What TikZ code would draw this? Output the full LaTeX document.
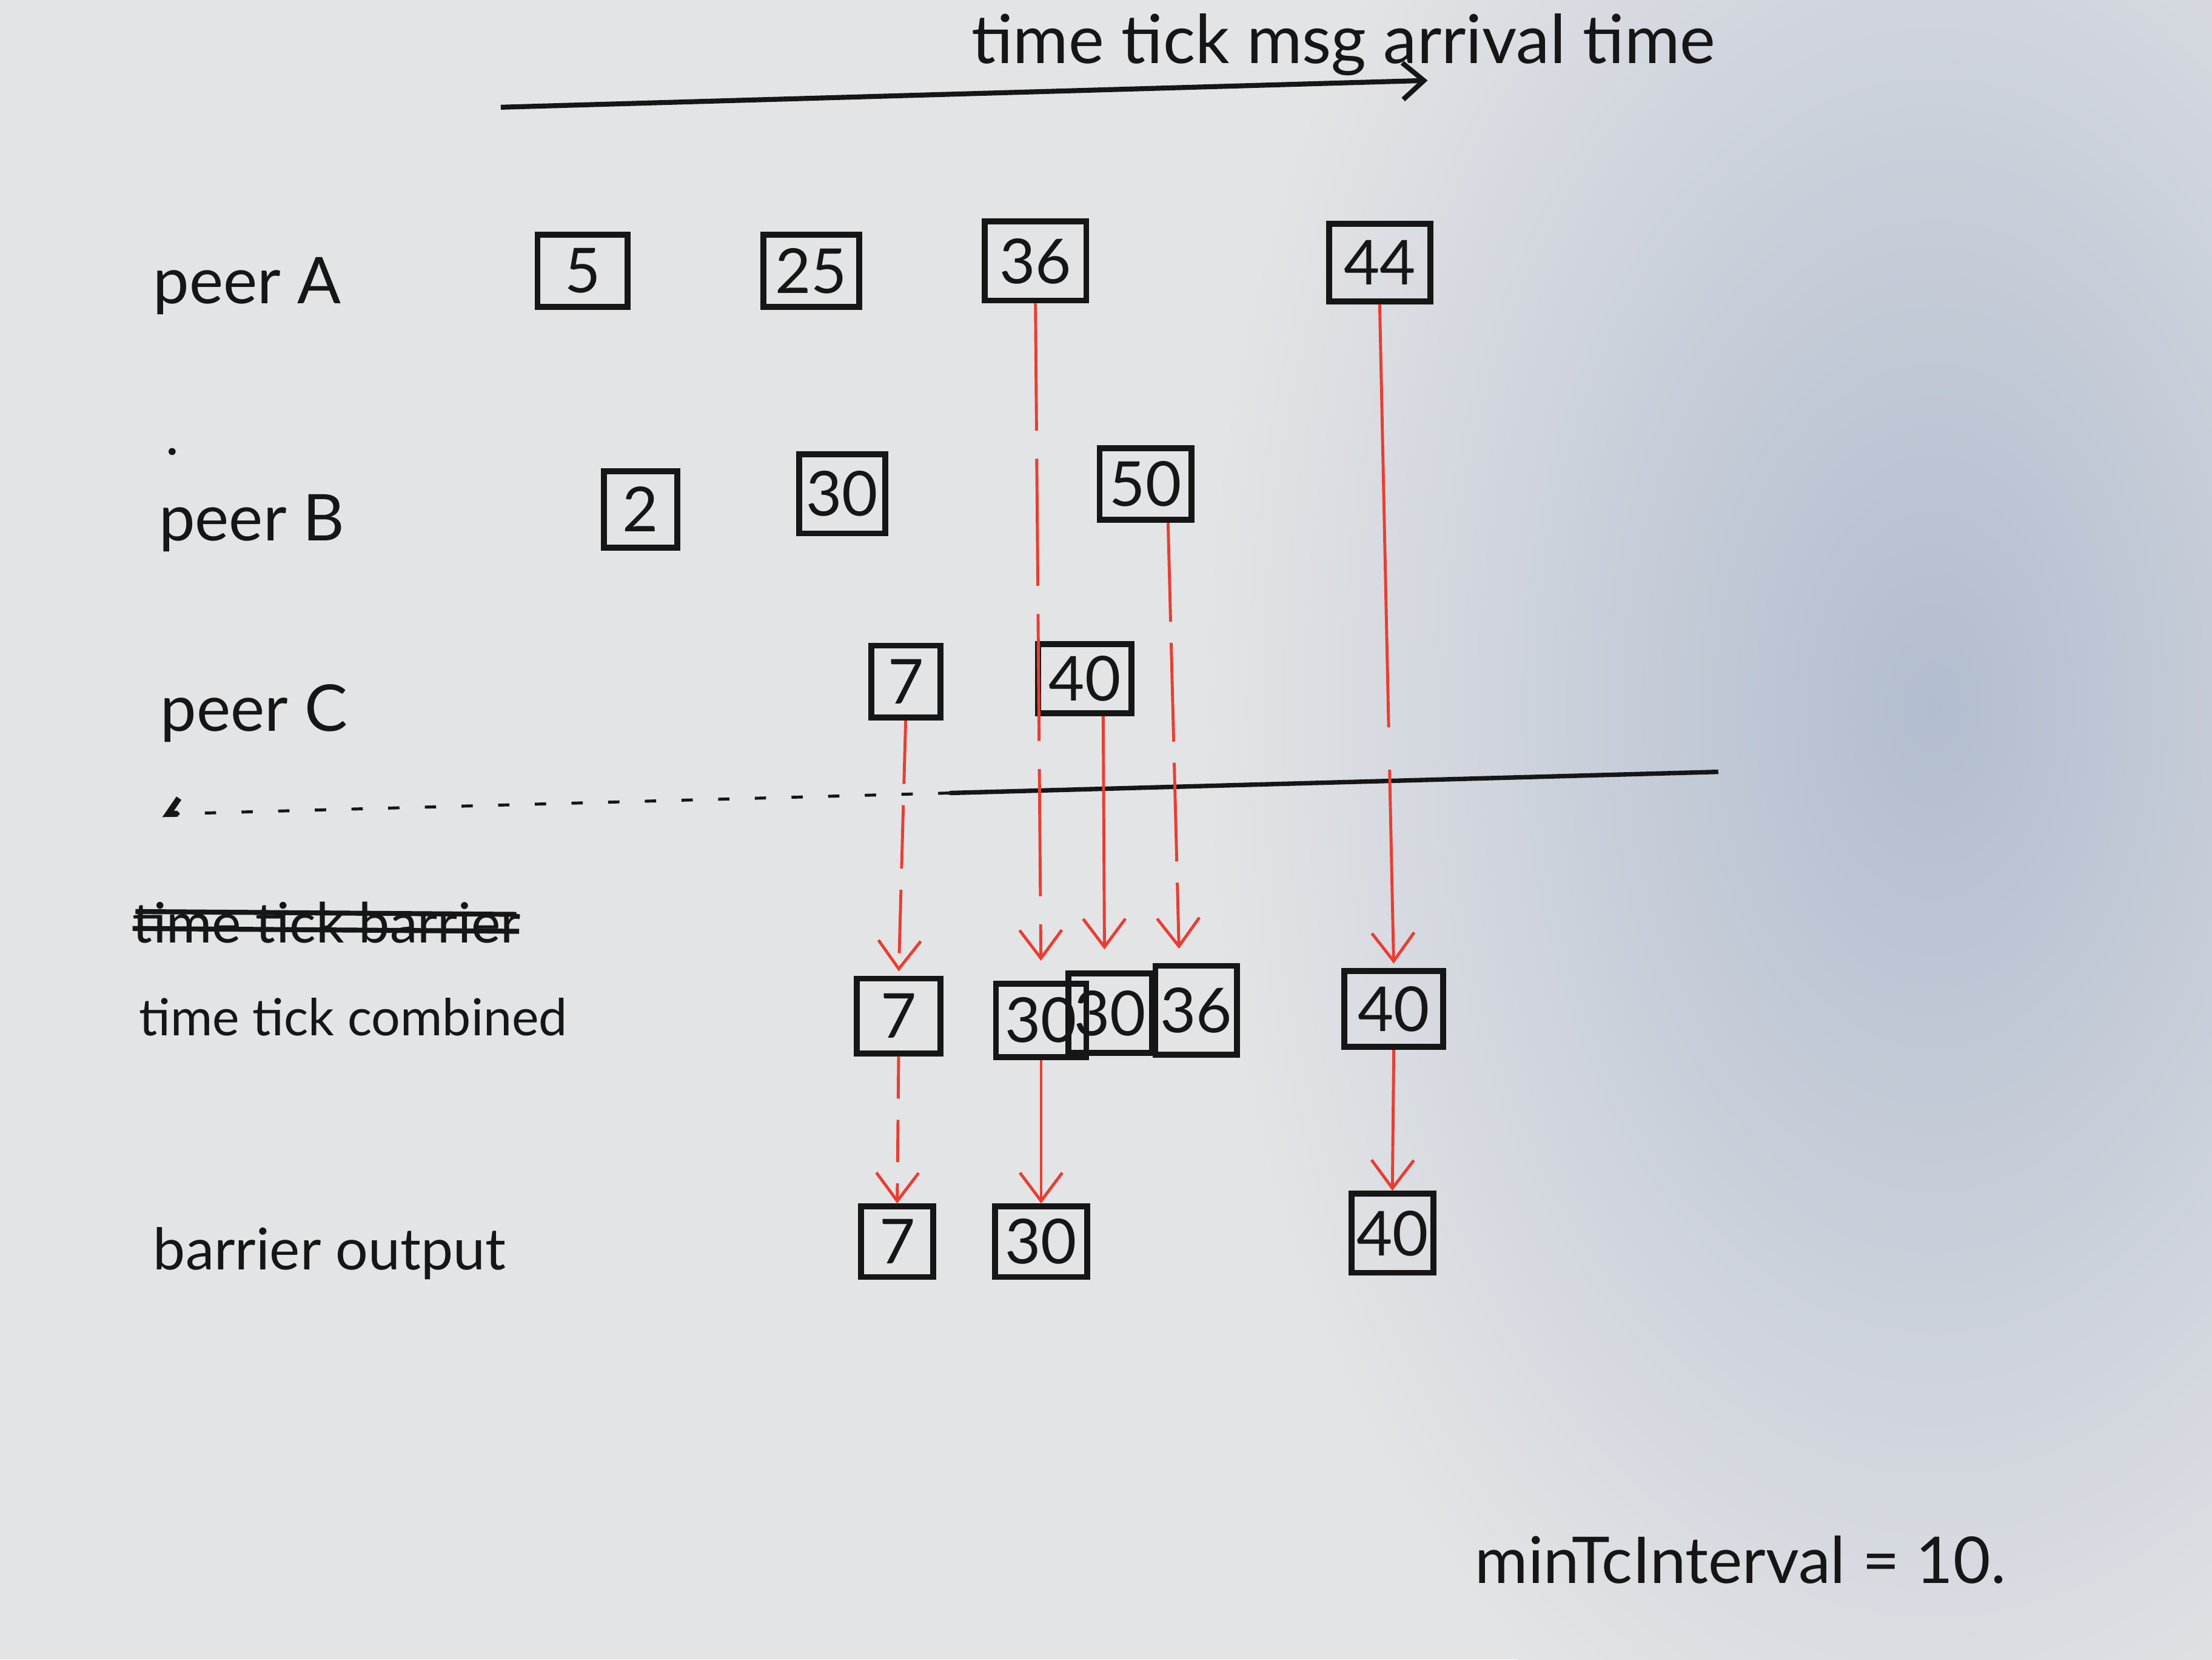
\documentclass[tikz,border=0pt]{standalone}
\usepackage{fontspec}
\setmainfont{Lato}
\usetikzlibrary{arrows.meta,calc}
\definecolor{paper}{RGB}{227,228,230}
\definecolor{shadow}{RGB}{178,189,207}
\definecolor{ink}{RGB}{22,22,22}
\definecolor{pen}{RGB}{232,62,50}
\begin{document}
\begin{tikzpicture}[x=0.1mm,y=-0.1mm,
  tick/.style={draw=ink, line width=1.2pt, inner sep=0pt, text=ink,
    font=\fontsize{12.5}{15}\selectfont},
  rowlabel/.style={anchor=base west, inner sep=0pt, text=ink},
  flow/.style={draw=pen, line width=0.6pt,
    -{Straight Barb[length=2mm,width=3mm,line width=0.6pt]}},
  boundary/.style={draw=ink, line width=0.9pt},
]
\useasboundingbox (0,0) rectangle (1568,1176);
% paper with its shadow on the right
\fill[paper] (0,0) rectangle (1568,1176);
\begin{scope}
  \clip (0,0) rectangle (1568,1176);
  \shade[inner color=shadow, outer color=paper] (1370,500) ellipse (520 and 820);
\end{scope}

% time axis
\node[rowlabel, font=\fontsize{13.6}{16}\selectfont] (axislabel) at (688,45) {time tick msg arrival time};
\coordinate (axisL) at (355,76);
\coordinate (axisR) at (1012,57);
\draw[ink, line width=1pt, -{Straight Barb[length=1.5mm,width=2.6mm]}] (axisL) -- (axisR);

% row labels
\node[rowlabel, font=\fontsize{13}{15}\selectfont] (peerA) at (108,215) {peer A};
\node[rowlabel, font=\fontsize{13}{15}\selectfont] (peerB) at (112,383) {peer B};
\node[rowlabel, font=\fontsize{13}{15}\selectfont] (peerC) at (113,518) {peer C};
\fill[ink] (122,320) circle (2.5);
\node[rowlabel, font=\fontsize{11.2}{14}\selectfont] (oldlabel) at (93,668) {time tick barrier};
\draw[ink, line width=1pt] (96,646) -- (366,648);
\draw[ink, line width=1pt] (94,658) -- (368,660);
\node[rowlabel, font=\fontsize{10.3}{13}\selectfont] (combinedlabel) at (98,734) {time tick combined};
\node[rowlabel, font=\fontsize{11.6}{14}\selectfont] (outputlabel) at (108,900) {barrier output};
\node[rowlabel, font=\fontsize{13}{15}\selectfont] (interval) at (1045,1122) {minTcInterval = 10.};

% peer A
\node[tick, minimum width=6.4mm, minimum height=5.1mm] (A5)  at (413,192) {5};
\node[tick, minimum width=6.8mm, minimum height=5.1mm] (A25) at (575,192) {25};
\node[tick, minimum width=7.2mm, minimum height=5.6mm] (A36) at (734,185) {36};
\node[tick, minimum width=7.2mm, minimum height=5.5mm] (A44) at (978,186) {44};
% peer B
\node[tick, minimum width=5.2mm, minimum height=5.4mm] (B2)  at (454,361) {2};
\node[tick, minimum width=6.1mm, minimum height=5.6mm] (B30) at (597,350) {30};
\node[tick, minimum width=6.5mm, minimum height=5.1mm] (B50) at (812,343) {50};
% peer C
\node[tick, minimum width=4.9mm, minimum height=5.1mm] (C7)  at (642,483) {7};
\node[tick, minimum width=6.6mm, minimum height=4.9mm] (C40) at (769,481) {40};

% separator
\coordinate (sepL) at (115,577);
\coordinate (sepM) at (673,562);
\coordinate (sepR) at (1218,547);
\draw[boundary] (sepM) -- (sepR);
\draw[ink, line width=0.6pt, dash pattern=on 0.8mm off 1.8mm] (sepM) -- (sepL);
\draw[ink, line width=1.2pt, -{Straight Barb[right,length=0.8mm,width=2.2mm]}]
  ($(sepL)!0.02!(sepM)$) -- (sepL);

% time tick combined
\node[tick, minimum width=5.9mm, minimum height=5.3mm] (K7)   at (637,720) {7};
\node[tick, minimum width=6.4mm, minimum height=5.2mm] (K30a) at (738,723) {30};
\node[tick, minimum width=5.9mm, minimum height=5.6mm] (K30b) at (787,718) {30};
\node[tick, minimum width=5.8mm, minimum height=6.3mm] (K36)  at (848,716) {36};
\node[tick, minimum width=7.0mm, minimum height=5.4mm] (K40)  at (988,715) {40};

% barrier output
\node[tick, minimum width=5.1mm, minimum height=5.0mm] (O7)  at (636,880) {7};
\node[tick, minimum width=6.5mm, minimum height=5.0mm] (O30) at (738,880) {30};
\node[tick, minimum width=5.8mm, minimum height=5.6mm] (O40) at (987,874) {40};

% peers -> combined
\draw[flow, dash pattern=on 4.5mm off 1.5mm, shorten >=0.3mm] (C7.south) -- (K7.north);
\draw[flow, dash pattern=on 9mm off 2mm, shorten >=1.4mm] (A36.south) -- (K30a.north);
\draw[flow, shorten >=1.5mm] ([xshift=1.3mm]C40.south) -- ([xshift=-0.4mm]K30b.north);
\draw[flow, dash pattern=on 7mm off 1.5mm, shorten >=1mm] ([xshift=1.6mm]B50.south) -- ([xshift=-1.2mm]K36.north);
\draw[flow, dash pattern=on 30mm off 3mm, shorten >=0.3mm] (A44.south) -- (K40.north);

% combined -> output
\draw[flow, dash pattern=on 3mm off 1.5mm] (K7.south) -- (O7.north);
\draw[flow] (K30a.south) -- (O30.north);
\draw[flow] (K40.south) -- (O40.north);
\end{tikzpicture}
\end{document}
